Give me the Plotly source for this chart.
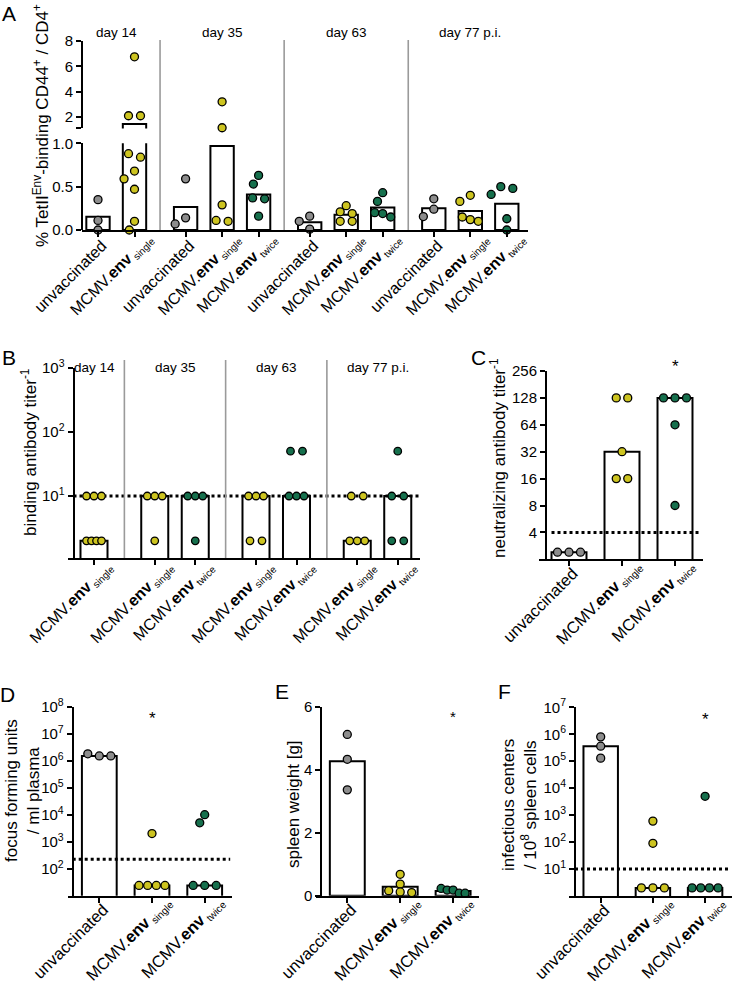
import math
import plotly.graph_objects as go

W, H = 735, 981
FONT = 'Liberation Sans, Arial, sans-serif'
GRAY, YELLOW, GREEN = '#8d8d8d', '#cdc420', '#16704d'
COLOR = {'unvaccinated': GRAY, 'single': YELLOW, 'twice': GREEN}


def ticklabel(cat, size):
    if cat == 'unvaccinated':
        return 'unvaccinated'
    return 'MCMV.<b>env</b><sub><span style="font-size:%.1fpx"> %s</span></sub>' % (size * 0.62, cat)


# ---------------- data ----------------
# Panel A: % TetII(Env)-binding CD44+ / CD4+
A_days = ['day 14', 'day 35', 'day 63', 'day 77 p.i.']
A_d14_unvaccinated = [0.35, 0.11, 0.0]
A_d14_single = [6.75, 2.1, 2.1, 0.88, 0.84, 0.68, 0.59, 0.47, 0.10, 0.0]
A_d35_unvaccinated = [0.59, 0.14, 0.07]
A_d35_single = [3.2, 1.15, 0.29, 0.11, 0.10]
A_d35_twice = [0.63, 0.53, 0.37, 0.36, 0.16]
A_d63_unvaccinated = [0.16, 0.10, 0.01]
A_d63_single = [0.28, 0.21, 0.19, 0.10, 0.10]
A_d63_twice = [0.43, 0.33, 0.20, 0.19, 0.15]
A_d77_unvaccinated = [0.36, 0.24, 0.155]
A_d77_single = [0.40, 0.33, 0.15, 0.12, 0.10]
A_d77_twice = [0.50, 0.48, 0.41, 0.13, 0.0]
A_upper_ticks = [2, 4, 6, 8]
A_lower_ticks = [0.0, 0.5, 1.0]

# Panel B: binding antibody titer
B_days = ['day 14', 'day 35', 'day 63', 'day 77 p.i.']
B_d14_single = [10, 10, 10, 2, 2, 2, 2]
B_d35_single = [10, 10, 10, 2]
B_d35_twice = [10, 10, 10, 2]
B_d63_single = [10, 10, 10, 2, 2]
B_d63_twice = [50, 50, 10, 10, 10]
B_d77_single = [10, 10, 2, 2, 2]
B_d77_twice = [50, 10, 10, 2, 2]
B_LOD = 10
B_ticks = [10, 100, 1000]

# Panel C: neutralizing antibody titer
C_unvaccinated = [2.4, 2.4, 2.4]
C_single = [128, 128, 32, 16, 16]
C_twice = [128, 128, 128, 64, 8]
C_LOD = 4
C_ticks = [4, 8, 16, 32, 64, 128, 256]

# Panel D: focus forming units / ml plasma
D_unvaccinated = [1.8e6, 1.5e6, 1.5e6]
D_single = [2000, 24, 24, 24, 24]
D_twice = [1e4, 5e3, 24, 24, 24]
D_LOD = 225
D_ticks = [1e2, 1e3, 1e4, 1e5, 1e6, 1e7, 1e8]

# Panel E: spleen weight [g]
E_unvaccinated = [5.12, 4.33, 3.36]
E_single = [0.68, 0.37, 0.16, 0.12, 0.10]
E_twice = [0.23, 0.18, 0.18, 0.08, 0.08]
E_ticks = [0, 2, 4, 6]

# Panel F: infectious centers / 10^8 spleen cells
F_unvaccinated = [8e5, 3.6e5, 1.3e5]
F_single = [600, 90, 2, 2, 2]
F_twice = [5e3, 2, 2, 2, 2]
F_LOD = 10
F_ticks = [1e1, 1e2, 1e3, 1e4, 1e5, 1e6, 1e7]

A_groups = [
    [('unvaccinated', A_d14_unvaccinated), ('single', A_d14_single)],
    [('unvaccinated', A_d35_unvaccinated), ('single', A_d35_single), ('twice', A_d35_twice)],
    [('unvaccinated', A_d63_unvaccinated), ('single', A_d63_single), ('twice', A_d63_twice)],
    [('unvaccinated', A_d77_unvaccinated), ('single', A_d77_single), ('twice', A_d77_twice)],
]
B_groups = [
    [('single', B_d14_single)],
    [('single', B_d35_single), ('twice', B_d35_twice)],
    [('single', B_d63_single), ('twice', B_d63_twice)],
    [('single', B_d77_single), ('twice', B_d77_twice)],
]
C_groups = [[('unvaccinated', C_unvaccinated), ('single', C_single), ('twice', C_twice)]]
D_groups = [[('unvaccinated', D_unvaccinated), ('single', D_single), ('twice', D_twice)]]
E_groups = [[('unvaccinated', E_unvaccinated), ('single', E_single), ('twice', E_twice)]]
F_groups = [[('unvaccinated', F_unvaccinated), ('single', F_single), ('twice', F_twice)]]


def mean(v):
    return sum(v) / len(v)


def median(v):
    s = sorted(v)
    n = len(s)
    return s[n // 2] if n % 2 else 0.5 * (s[n // 2 - 1] + s[n // 2])


def pow10_label(v):
    return '10<sup>%d</sup>' % round(math.log10(v))


# ---------------- layout helpers ----------------
layout = dict(
    template='none',
    width=W, height=H, margin=dict(l=0, r=0, t=0, b=0, pad=0), autosize=False,
    paper_bgcolor='white', plot_bgcolor='rgba(0,0,0,0)', showlegend=False,
    font=dict(family=FONT, color='black', size=14),
    shapes=[], annotations=[],
)
traces = []
n_axes = [0]


def px2x(p):
    return p / W


def px2y(p):
    return 1 - p / H


def next_id():
    n_axes[0] += 1
    k = n_axes[0]
    return '' if k == 1 else str(k)


def xaxis_common(xfont):
    return dict(automargin=False, showgrid=False, zeroline=False, tickangle=-45,
                tickmode='array', tickfont=dict(size=xfont, family=FONT, color='black'),
                fixedrange=True, ticklen=5, tickwidth=2)


def add_axes(x0, x1, origin, unit, top, bottom, yrange, ylog, yaxis_px,
             tickpos, cats, xfont, yticks, yticktext, yfont, show_x=True,
             unvac_place=(4, -7), mcmv_place=(13, -13)):
    s = next_id()
    xr = [(x0 - origin) / unit, (x1 - origin) / unit]
    xa = xaxis_common(xfont)
    xa.update(domain=[px2x(x0), px2x(x1)], range=xr, anchor='y' + s,
              showline=show_x, linecolor='black', linewidth=2,
              ticks='outside' if show_x else '', tickcolor='black',
              tickvals=tickpos if show_x else [],
              ticktext=[ticklabel(c, xfont) if c == 'unvaccinated' else '' for c in cats] if show_x else [],
              ticklabelshift=unvac_place[0], ticklabelstandoff=unvac_place[1],
              showticklabels=show_x)
    layout['xaxis' + s] = xa
    layout['yaxis' + s] = dict(
        domain=[px2y(bottom), px2y(top)], range=yrange, type='log' if ylog else 'linear',
        anchor='free', position=px2x(yaxis_px), automargin=False,
        showgrid=False, zeroline=False, showline=True, linecolor='black', linewidth=2,
        ticks='outside', ticklen=5, tickwidth=2, tickcolor='black',
        tickmode='array', tickvals=yticks, ticktext=yticktext,
        tickfont=dict(size=yfont, family=FONT, color='black'), fixedrange=True)
    if show_x:
        # second x-axis over the first one, carrying only the MCMV labels
        s2 = next_id()
        xb = xaxis_common(xfont)
        mp = [p for p, c in zip(tickpos, cats) if c != 'unvaccinated']
        mt = [ticklabel(c, xfont) for c in cats if c != 'unvaccinated']
        xb.update(overlaying='x' + s, anchor='y' + s, range=xr, showline=False,
                  domain=[px2x(x0), px2x(x1)],
                  ticks='outside', tickcolor='rgba(0,0,0,0)', tickvals=mp, ticktext=mt,
                  ticklabelshift=mcmv_place[0], ticklabelstandoff=mcmv_place[1],
                  showticklabels=True)
        layout['xaxis' + s2] = xb
        # empty helper trace so the overlay axis is registered and drawn
        traces.append(go.Scatter(x=mp, y=[None] * len(mp), mode='markers',
                                 xaxis='x' + s2, yaxis='y' + s, hoverinfo='skip',
                                 marker=dict(opacity=0)))
    return 'x' + s, 'y' + s


def positions(groups, gap):
    pos, out, centers, dividers = 0.0, [], [], []
    for gi, g in enumerate(groups):
        gp = []
        for _ in g:
            gp.append(pos)
            pos += 1
        out.append(gp)
        centers.append(sum(gp) / len(gp))
        pos += gap
    for gi in range(len(out) - 1):
        dividers.append((out[gi][-1] + out[gi + 1][0]) / 2)
    return out, centers, dividers


def swarm(ys, d, sp_max, avail, tol):
    n = len(ys)
    order = sorted(range(n), key=lambda i: ys[i])
    rows = []
    for i in order:
        if rows and ys[i] - ys[rows[-1][0]] < tol:
            rows[-1].append(i)
        else:
            rows.append([i])
    offs = [0.0] * n
    placed = []
    step = d * 0.55
    for row in rows:
        m = len(row)
        if m > 1:
            sp = min(sp_max, avail / (m - 1))
            for k, i in enumerate(row):
                offs[i] = (k - (m - 1) / 2) * sp
        else:
            i = row[0]
            for c in (0, -1, 1, -2, 2, -3, 3):
                x = c * step
                if all((x - offs[j]) ** 2 + (ys[i] - ys[j]) ** 2 >= d * d for j in placed):
                    offs[i] = x
                    break
        placed.extend(row)
    return offs


def draw_group(cat, vals, pos, unit, bw, stat, axes_for, ypx, d, sp_max, avail, tol):
    bar = mean(vals) if stat == 'mean' else median(vals)
    ys = [ypx(v) for v in vals]
    offs = swarm(ys, d, sp_max, avail, tol)
    for xa, ya, keep in axes_for:
        traces.append(go.Bar(x=[pos], y=[bar], width=bw, xaxis=xa, yaxis=ya,
                             marker=dict(color='white', line=dict(color='black', width=2)),
                             hoverinfo='skip'))
    return bar, offs


def draw_points(cat, vals, pos, unit, offs, axes_for, msize=8):
    for xa, ya, keep in axes_for:
        xs = [pos + o / unit for v, o in zip(vals, offs) if keep(v)]
        yv = [v for v in vals if keep(v)]
        if not yv:
            continue
        traces.append(go.Scatter(x=xs, y=yv, mode='markers', xaxis=xa, yaxis=ya,
                                 cliponaxis=False, hoverinfo='skip',
                                 marker=dict(size=msize, color=COLOR[cat], opacity=1,
                                             line=dict(color='black', width=1.3))))


def lod_line(xa, ya, x0, x1, value):
    traces.append(go.Scatter(x=[x0, x1], y=[value, value], mode='lines', xaxis=xa, yaxis=ya,
                             line=dict(color='black', width=3, dash='dot'),
                             hoverinfo='skip', cliponaxis=False))


def annot(text, xpx=None, ypx=None, size=14, angle=0, xref='paper', x=None, **kw):
    layout['annotations'].append(dict(
        text=text, x=x if x is not None else px2x(xpx), xref=xref, y=px2y(ypx), yref='paper',
        showarrow=False, font=dict(size=size, family=FONT, color='black'),
        textangle=angle, xanchor='center', yanchor='middle', **kw))


# ---------------- Panel A ----------------
A_unit, A_origin = 36.5, 98
A_pos, A_centers, A_div = positions(A_groups, 0.4)
A_tickpos = [p for gp in A_pos for p in gp]
A_cats = [c for g in A_groups for c, _ in g]
A_split = 1.05
xaL, yaL = add_axes(82, 528, A_origin, A_unit, 143.3, 230, [0, 1.0], False, 82,
                    A_tickpos, A_cats, 16, A_lower_ticks, ['%.1f' % t for t in A_lower_ticks], 15)
xaU, yaU = add_axes(82, 528, A_origin, A_unit, 41, 128.4, [1.1, 8.0], False, 82,
                    A_tickpos, A_cats, 16, A_upper_ticks + [1.1],
                    [str(t) for t in A_upper_ticks] + [' '], 15, show_x=False)


def A_ypx(v):
    if v > A_split:
        return 128.4 - (v - 1.1) / 6.9 * (128.4 - 41)
    return 230 - v * (230 - 143.3)


A_axes = [(xaL, yaL, lambda v: v <= A_split), (xaU, yaU, lambda v: v > A_split)]
A_pts = []
for gp, g in zip(A_pos, A_groups):
    for p, (cat, vals) in zip(gp, g):
        _, offs = draw_group(cat, vals, p, A_unit, 0.64, 'mean', A_axes, A_ypx, 9.5, 12, 16, 5)
        A_pts.append((cat, vals, p, offs))
for cat, vals, p, offs in A_pts:
    draw_points(cat, vals, p, A_unit, offs, A_axes)
for dv in A_div:
    layout['shapes'].append(dict(type='line', xref=xaL, yref='paper', x0=dv, x1=dv,
                                 y0=px2y(40), y1=px2y(230), line=dict(color='#9a9a9a', width=1.6)))
for c, lab in zip(A_centers, A_days):
    annot(lab, ypx=33, size=13.5, xref=xaL, x=c)
annot('% TetII<sup>Env</sup>-binding CD44<sup>+</sup> / CD4<sup>+</sup>', 41, 126, size=17, angle=-90)
annot('A', 9, 13, size=21)

# ---------------- Panel B ----------------
B_unit, B_origin = 40.5, 94
B_pos, B_centers, B_div = positions(B_groups, 0.5)
B_tickpos = [p for gp in B_pos for p in gp]
B_cats = [c for g in B_groups for c, _ in g]
B_top, B_bot, B_r = 367.7, 558, [0.034, 3.0]
xaB, yaB = add_axes(68, 420, B_origin, B_unit, B_top, B_bot, B_r, True, 73.5,
                    B_tickpos, B_cats, 16, B_ticks, [pow10_label(t) for t in B_ticks], 15)


def B_ypx(v):
    return B_bot - (math.log10(v) - B_r[0]) / (B_r[1] - B_r[0]) * (B_bot - B_top)


B_axes = [(xaB, yaB, lambda v: True)]
B_pts = []
for gp, g in zip(B_pos, B_groups):
    for p, (cat, vals) in zip(gp, g):
        _, offs = draw_group(cat, vals, p, B_unit, 0.667, 'median', B_axes, B_ypx, 8, 12, 15, 3)
        B_pts.append((cat, vals, p, offs))
lod_line(xaB, yaB, (73.5 - B_origin) / B_unit, (420 - B_origin) / B_unit, B_LOD)
for cat, vals, p, offs in B_pts:
    draw_points(cat, vals, p, B_unit, offs, B_axes, msize=7.5)
for dv in B_div:
    layout['shapes'].append(dict(type='line', xref=xaB, yref='paper', x0=dv, x1=dv,
                                 y0=px2y(360), y1=px2y(558), line=dict(color='#9a9a9a', width=1.6)))
for c, lab in zip(B_centers, B_days):
    annot(lab, ypx=368, size=13.5, xref=xaB, x=c)
annot('binding antibody titer<sup>-1</sup>', 29, 452, size=17, angle=-90)
annot('B', 9, 357, size=21)


# ---------------- Panels C-F (three groups) ----------------
def simple_panel(groups, x0, x1, origin, unit, yaxis_px, top, bot, yr, ylog, yticks, yticktext,
                 stat, lod, lod_x0, title, title_xy, tsize, letter, letter_xy, star_cat, star_y,
                 star_size, xfont=16.5, yfont=15, d=9, avail=26, tol=3):
    pos, _, _ = positions(groups, 0)
    tickpos = [p for gp in pos for p in gp]
    cats = [c for g in groups for c, _ in g]
    xa, ya = add_axes(x0, x1, origin, unit, top, bot, yr, ylog, yaxis_px,
                      tickpos, cats, xfont, yticks, yticktext, yfont,
                      unvac_place=(4, -9), mcmv_place=(14, -16))

    def ypx(v):
        t = math.log10(v) if ylog else v
        return bot - (t - yr[0]) / (yr[1] - yr[0]) * (bot - top)

    axes = [(xa, ya, lambda v: True)]
    pts = []
    for gp, g in zip(pos, groups):
        for p, (cat, vals) in zip(gp, g):
            _, offs = draw_group(cat, vals, p, unit, 0.66, stat, axes, ypx, d, 11.5, avail, tol)
            pts.append((cat, vals, p, offs))
    if lod is not None:
        lod_line(xa, ya, lod_x0, (x1 - 1.5 - origin) / unit, lod)
    for cat, vals, p, offs in pts:
        draw_points(cat, vals, p, unit, offs, axes)
    annot(title, title_xy[0], title_xy[1], size=tsize, angle=-90)
    annot(letter, letter_xy[0], letter_xy[1], size=21)
    if star_cat is not None:
        sp = [p for gp, g in zip(pos, groups) for p, (c, _) in zip(gp, g) if c == star_cat][0]
        annot('*', ypx=star_y, size=star_size, xref=xa, x=sp)


simple_panel(C_groups, 539, 703, 569, 53, 546, 371, 559.3, [math.log10(2), math.log10(256)], True,
             C_ticks, [str(t) for t in C_ticks], 'median', C_LOD, -0.33,
             'neutralizing antibody titer<sup>-1</sup>', (498, 458), 17, 'C', (478, 357),
             'twice', 366, 17)
simple_panel(D_groups, 68, 231.7, 99.3, 52.7, 72.7, 706.7, 895.7, [1, 8], True,
             D_ticks, [pow10_label(t) for t in D_ticks], 'median', D_LOD, (72.7 - 99.3) / 52.7,
             'focus forming units<br>/ ml plasma', (22, 791), 17, 'D', (8, 694),
             'single', 718, 17)
simple_panel(E_groups, 316, 479.3, 347.3, 52.9, 321.3, 706.7, 895.7, [0, 6], False,
             E_ticks, [str(t) for t in E_ticks], 'mean', None, 0,
             'spleen weight [g]', (293, 804), 17, 'E', (281.5, 691.5),
             'twice', 716, 15, d=9, avail=24, tol=5)
simple_panel(F_groups, 569, 731.7, 600.7, 52.2, 575, 707.3, 896, [0, 7], True,
             F_ticks, [pow10_label(t) for t in F_ticks], 'median', F_LOD, (575 - 600.7) / 52.2,
             'infectious centers<br>/ 10<sup>8</sup> spleen cells', (519, 805), 17, 'F', (504, 691.5),
             'twice', 719, 17)

fig = go.Figure(data=traces, layout=layout)
fig.write_html('out.html', config={'displayModeBar': False, 'staticPlot': True},
               post_script="document.body.style.margin='0px';document.body.style.padding='0px';"
                           "document.body.style.overflow='hidden';")
